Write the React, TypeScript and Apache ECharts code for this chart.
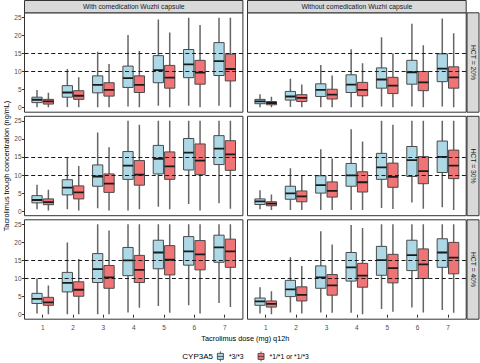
import React, { useEffect, useRef } from "react";
import * as echarts from "echarts";

// ---- data: [min, Q1, median, Q3, max] per dose ----
const DOSES = [1, 2, 3, 4, 5, 6, 7];
const Y_TICKS = [0, 5, 10, 15, 20, 25];
const TARGET_LINES = [10, 15];
const COLUMNS = ["With comedication Wuzhi capsule", "Without comedication Wuzhi capsule"];
const ROWS = ["HCT = 20%", "HCT = 30%", "HCT = 40%"];
const GENOTYPES = ["*3/*3", "*1/*1 or *1/*3"];

const with20_33 = [[0.1, 1.4, 2.2, 2.9, 4.9], [0.2, 2.9, 4.2, 6.1, 10.7], [0.1, 4.1, 6.3, 8.8, 15.5], [0.3, 5.6, 8.2, 11.5, 20.1], [0.5, 6.9, 10.4, 14.4, 24.4], [0.5, 8.3, 12.0, 16.1, 24.9], [0.5, 8.9, 12.9, 18.0, 24.9]];
const with20_1x = [[0.1, 1.0, 1.75, 2.3, 4.1], [0.1, 2.3, 3.3, 4.7, 8.4], [0.1, 3.2, 4.9, 6.9, 12.1], [0.1, 4.2, 6.3, 8.8, 15.7], [0.1, 5.4, 8.3, 11.7, 20.8], [0.1, 6.5, 9.7, 13.1, 22.9], [0.1, 7.4, 10.7, 14.8, 24.9]];
const without20_33 = [[0.1, 1.1, 1.75, 2.3, 3.7], [0.2, 2.1, 3.1, 4.5, 8.0], [0.1, 3.1, 4.9, 6.6, 11.8], [0.1, 4.2, 6.4, 9.1, 16.2], [0.3, 5.4, 7.8, 11.0, 19.5], [0.3, 6.5, 9.8, 13.1, 23.2], [0.3, 7.2, 10.8, 14.9, 24.7]];
const without20_1x = [[0.1, 0.8, 1.3, 1.7, 3.0], [0.1, 1.7, 2.7, 3.6, 6.4], [0.1, 2.4, 3.6, 5.1, 8.9], [0.1, 3.3, 4.9, 7.0, 12.3], [0.1, 3.9, 6.1, 8.4, 15.0], [0.1, 4.7, 7.0, 10.0, 17.3], [0.1, 5.4, 8.4, 11.3, 20.6]];
const with30_33 = [[0.5, 2.3, 3.1, 4.3, 7.3], [0.5, 4.5, 6.5, 8.7, 14.9], [0.8, 6.9, 9.6, 12.8, 21.8], [0.2, 8.8, 12.6, 16.5, 25], [1.2, 10.3, 14.5, 18.2, 25], [2.0, 11.4, 16.2, 20.1, 25], [2.2, 12.9, 17.3, 20.9, 25]];
const with30_1x = [[0.2, 1.8, 2.5, 3.4, 5.9], [0.2, 3.4, 5.2, 7.0, 12.5], [0.2, 5.2, 7.6, 10.3, 17.7], [0.5, 7.2, 10.1, 14.0, 23.9], [0.5, 8.8, 12.4, 16.4, 25], [0.2, 10.1, 14.0, 18.6, 25], [0.7, 11.3, 15.7, 19.5, 25]];
const without30_33 = [[0.5, 1.85, 2.7, 3.4, 5.8], [0.3, 3.3, 4.9, 6.9, 11.9], [0.3, 5.0, 7.2, 9.8, 17.1], [0.3, 6.9, 9.9, 13.2, 22.7], [0.9, 8.8, 12.1, 16.0, 25], [2.4, 9.6, 14.1, 17.9, 25], [1.1, 10.7, 15.0, 19.4, 25]];
const without30_1x = [[0.3, 1.5, 2.1, 2.6, 4.6], [0.3, 2.6, 4.1, 5.6, 10.0], [0.3, 3.9, 5.6, 8.1, 14.6], [0.3, 5.3, 8.0, 10.9, 19.3], [0.6, 6.6, 9.5, 13.3, 23.9], [0.7, 7.6, 11.1, 15.1, 25], [0.3, 9.0, 12.6, 16.9, 25]];
const with40_33 = [[0.3, 3.1, 4.4, 5.9, 10.0], [0.1, 6.3, 8.8, 11.7, 20.0], [0.1, 8.9, 12.6, 16.9, 25], [0.6, 10.8, 15.0, 18.6, 25], [2.4, 12.7, 17.2, 20.6, 25], [2.6, 13.7, 17.5, 21.6, 25], [3.2, 14.5, 18.6, 22.0, 25]];
const with40_1x = [[0.1, 2.6, 3.4, 4.8, 8.1], [0.1, 5.1, 6.9, 9.1, 15.4], [0.1, 7.3, 10.3, 13.6, 23.3], [1.9, 8.9, 12.4, 16.4, 25], [0.5, 11.0, 15.2, 19.1, 25], [0.3, 12.4, 16.7, 20.5, 25], [2.1, 13.1, 17.5, 20.9, 25]];
const without40_33 = [[0.3, 2.6, 3.7, 4.6, 7.6], [0.6, 5.0, 7.0, 9.5, 15.9], [0.6, 7.3, 10.3, 13.5, 23.1], [0.5, 9.3, 13.1, 17.2, 24.8], [1.6, 10.9, 15.1, 18.9, 25], [2.0, 12.2, 16.5, 20.6, 25], [1.3, 13.1, 17.2, 21.0, 25]];
const without40_1x = [[0.1, 2.1, 3.0, 3.8, 6.5], [0.3, 3.8, 5.5, 7.7, 13.5], [0.5, 5.4, 8.1, 11.1, 19.4], [0.1, 7.6, 10.8, 14.2, 24.0], [0.8, 8.8, 12.9, 16.7, 25], [0.6, 10.0, 13.9, 18.2, 25], [0.5, 11.3, 15.8, 20.0, 25]];

// panels[row][col] = [genotype *3/*3, genotype *1/*1 or *1/*3]
const PANELS = [
  [[with20_33, with20_1x], [without20_33, without20_1x]],
  [[with30_33, with30_1x], [without30_33, without30_1x]],
  [[with40_33, with40_1x], [without40_33, without40_1x]],
];

// ---- layout / style ----
const COLORS = ["#ADD8E6", "#F07476"];
const FONT = "Liberation Sans, Arial, Helvetica, sans-serif";
const X_MIN = 0.4, X_MAX = 7.6;
const Y_MIN = -1.25, Y_MAX = 26.25;
const BOX_W = 0.3375;
const DODGE = 0.1875;
const COL_LEFT = [24.5, 247.5];
const COL_W = [218.4, 218.7];
const ROW_TOP = [12.8, 116.3, 219.8];
const ROW_H = 99.4;

function makeRender(offset: number, color: string) {
  return (params: any, api: any) => {
    const x = api.value(0) as number;
    const mn = api.value(1) as number;
    const q1 = api.value(2) as number;
    const md = api.value(3) as number;
    const q3 = api.value(4) as number;
    const mx = Math.min(api.value(5) as number, Y_MAX);
    const cx = x + offset;
    const tl = api.coord([cx - BOX_W / 2, q3]);
    const br = api.coord([cx + BOX_W / 2, q1]);
    const top = api.coord([cx, mx]);
    const bot = api.coord([cx, mn]);
    const mid = api.coord([cx, md]);
    return {
      type: "group",
      children: [
        { type: "line", shape: { x1: top[0], y1: top[1], x2: bot[0], y2: bot[1] }, style: { stroke: "#666666", lineWidth: 1.5 } },
        { type: "rect", shape: { x: tl[0], y: tl[1], width: br[0] - tl[0], height: br[1] - tl[1] }, style: { fill: color, stroke: "#4A4A4A", lineWidth: 1 } },
        { type: "line", shape: { x1: tl[0], y1: mid[1], x2: br[0], y2: mid[1] }, style: { stroke: "#1A1A1A", lineWidth: 1.8 } },
      ],
    };
  };
}

const LEGEND_ICON = "path://M0,0 V2 M0,8 V10 M-3,2 H3 V8 H-3 Z M-3,5 H3";

export default function App() {
  const ref = useRef<HTMLDivElement>(null);
  useEffect(() => {
    if (!ref.current) return;
    const chart = echarts.init(ref.current, undefined, { renderer: "svg" });
    const grids: any[] = [];
    const xAxes: any[] = [];
    const yAxes: any[] = [];
    const series: any[] = [];
    const graphics: any[] = [];
    let gi = 0;
    for (let r = 0; r < 3; r++) {
      for (let c = 0; c < 2; c++) {
        grids.push({
          left: COL_LEFT[c], top: ROW_TOP[r], width: COL_W[c], height: ROW_H,
          show: true, borderColor: "#333333", borderWidth: 1, backgroundColor: "transparent",
          containLabel: false, outerBoundsMode: "none",
        });
        const bottom = r === 2;
        const leftCol = c === 0;
        xAxes.push({
          type: "value", gridIndex: gi, min: X_MIN, max: X_MAX,
          axisLine: { show: false }, splitLine: { show: false },
          axisTick: { show: bottom, customValues: DOSES, length: 3, lineStyle: { color: "#333333", width: 1 } },
          axisLabel: { show: bottom, customValues: DOSES, color: "#4D4D4D", fontSize: 6.5, fontFamily: FONT, margin: 5 },
        });
        yAxes.push({
          type: "value", gridIndex: gi, min: Y_MIN, max: Y_MAX,
          axisLine: { show: false }, splitLine: { show: false },
          axisTick: { show: leftCol, customValues: Y_TICKS, length: 2.5, lineStyle: { color: "#333333", width: 1 } },
          axisLabel: { show: leftCol, customValues: Y_TICKS, color: "#4D4D4D", fontSize: 6.5, fontFamily: FONT, margin: 3 },
        });
        const pair = PANELS[r][c];
        for (let g = 0; g < 2; g++) {
          const s: any = {
            type: "custom",
            name: GENOTYPES[g],
            xAxisIndex: gi, yAxisIndex: gi,
            clip: true,
            itemStyle: { color: COLORS[g] },
            encode: { x: 0, y: [1, 2, 3, 4, 5] },
            data: DOSES.map((d, i) => [d, ...pair[g][i]]),
            renderItem: makeRender(g === 0 ? -DODGE : DODGE, COLORS[g]),
            z: 2,
          };
          if (g === 1) {
            s.markLine = {
              silent: true, symbol: ["none", "none"], label: { show: false }, z: 10,
              lineStyle: { type: [4, 2.7], color: "#1A1A1A", width: 1.2 },
              emphasis: { disabled: true },
              data: TARGET_LINES.map((v) => ({ yAxis: v })),
            };
          }
          series.push(s);
        }
        gi++;
      }
    }
    // column strips
    for (let c = 0; c < 2; c++) {
      graphics.push({
        type: "rect", shape: { x: COL_LEFT[c], y: 0.5, width: COL_W[c], height: ROW_TOP[0] - 0.5 },
        style: { fill: "#D9D9D9", stroke: "#333333", lineWidth: 1 },
      });
      graphics.push({
        type: "text", x: COL_LEFT[c] + COL_W[c] / 2, y: (ROW_TOP[0] + 0.5) / 2,
        style: { text: COLUMNS[c], fill: "#1A1A1A", font: `6.8px ${FONT}`, align: "center", verticalAlign: "middle" },
      });
    }
    // row strips
    for (let r = 0; r < 3; r++) {
      graphics.push({
        type: "rect", shape: { x: 467, y: ROW_TOP[r], width: 12, height: ROW_H },
        style: { fill: "#D9D9D9", stroke: "#333333", lineWidth: 1 },
      });
      graphics.push({
        type: "text", x: 473, y: ROW_TOP[r] + ROW_H / 2, rotation: -Math.PI / 2,
        style: { text: ROWS[r], fill: "#1A1A1A", font: `6.8px ${FONT}`, align: "center", verticalAlign: "middle" },
      });
    }
    // axis titles
    graphics.push({
      type: "text", x: (COL_LEFT[0] + COL_LEFT[1] + COL_W[1]) / 2, y: 338,
      style: { text: "Tacrolimus dose (mg) q12h", fill: "#000000", font: `7.3px ${FONT}`, align: "center", verticalAlign: "middle" },
    });
    graphics.push({
      type: "text", x: 6, y: (ROW_TOP[0] + ROW_TOP[2] + ROW_H) / 2, rotation: Math.PI / 2,
      style: { text: "Tacrolimus trough concentration (ng/mL)", fill: "#000000", font: `7.3px ${FONT}`, align: "center", verticalAlign: "middle" },
    });
    // legend title
    graphics.push({
      type: "text", x: 213, y: 356,
      style: { text: "CYP3A5", fill: "#000000", font: `8px ${FONT}`, align: "right", verticalAlign: "middle" },
    });

    chart.setOption({
      animation: false,
      backgroundColor: "#FFFFFF",
      grid: grids,
      xAxis: xAxes,
      yAxis: yAxes,
      series,
      legend: {
        left: 217, top: 351, orient: "horizontal", padding: 0,
        itemWidth: 7, itemHeight: 10, itemGap: 14,
        selectedMode: false,
        textStyle: { fontSize: 6.8, fontFamily: FONT, color: "#000000" },
        data: GENOTYPES.map((name, g) => ({
          name, icon: LEGEND_ICON,
          itemStyle: { color: COLORS[g], borderColor: "#333333", borderWidth: 0.8 },
        })),
      },
      graphic: graphics,
    });
    return () => chart.dispose();
  }, []);
  return <div ref={ref} style={{ position: "fixed", left: 0, top: 0, width: 480, height: 363 }} />;
}
